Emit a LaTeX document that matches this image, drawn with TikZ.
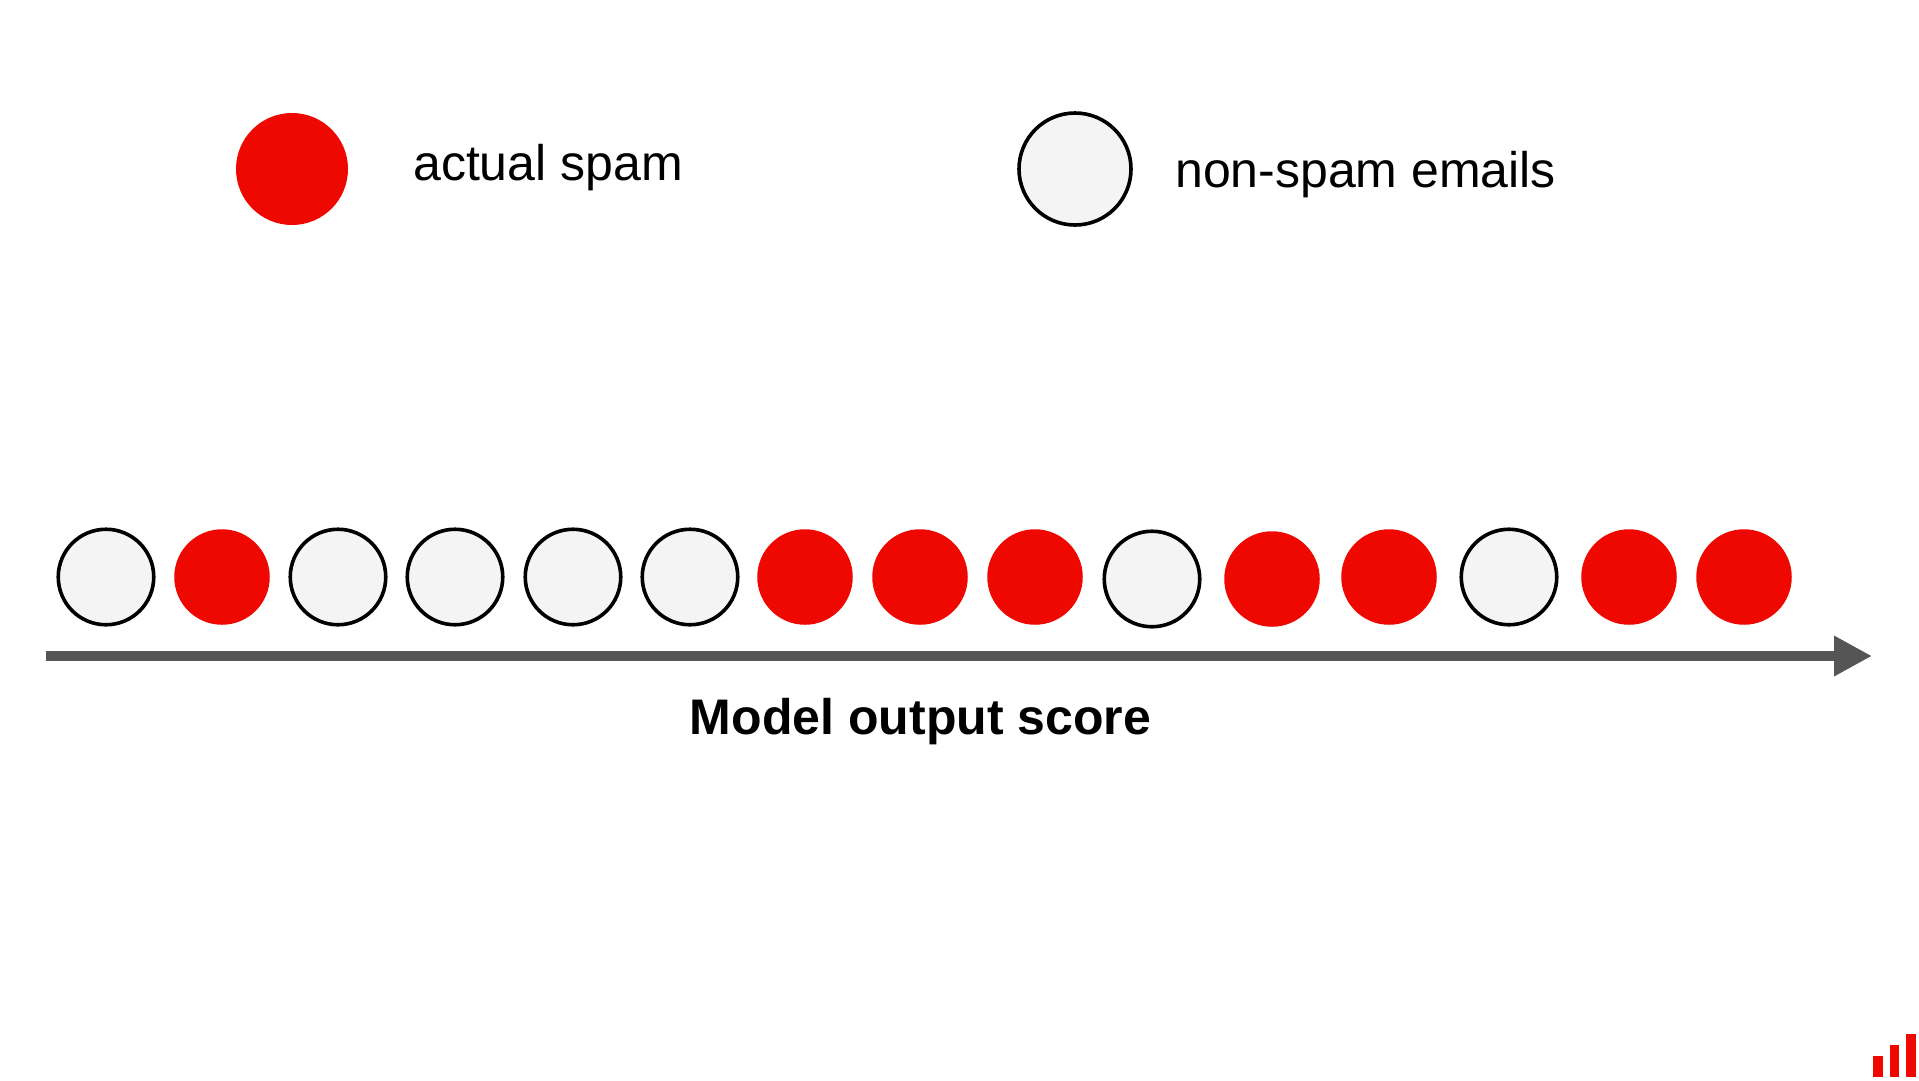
\documentclass[tikz,border=0pt]{standalone}
\usepackage{fontspec}
\setmainfont{Liberation Sans}
\usetikzlibrary{arrows.meta}
\definecolor{spamred}{HTML}{EE0800}
\definecolor{hamgray}{HTML}{F4F4F4}
\definecolor{axisgray}{HTML}{555555}
\tikzset{
  spam/.style={circle,fill=spamred,inner sep=0pt,outer sep=0pt,minimum size=95.5pt},
  ham/.style={circle,draw=black,line width=3.6pt,fill=hamgray,inner sep=0pt,outer sep=0pt,minimum size=95.5pt},
  legendtext/.style={anchor=base west,inner sep=0pt,font=\fontsize{50}{60}\selectfont},
  bar/.style={fill=spamred}
}

\begin{document}
\begin{tikzpicture}[x=1pt,y=-1pt]
            \useasboundingbox (0,0) rectangle (1919,1080);

            % legend
            \node[spam,minimum size=112pt] (keyspam) at (292,169){};
            \node[legendtext] (keyspamtext) at (413,180){actual spam};
            \node[ham,minimum size=112pt] (keyham) at (1075,169){};
            \node[legendtext] (keyhamtext) at (1175,187){non-spam emails};

            % emails in score order
            \node[ham]  (e1) at (106,577){};
            \node[spam] (e2) at (222,577){};
            \node[ham]  (e3) at (338,577){};
            \node[ham]  (e4) at (455,577){};
            \node[ham]  (e5) at (573,577){};
            \node[ham]  (e6) at (690,577){};
            \node[spam] (e7) at (805,577){};
            \node[spam] (e8) at (920,577){};
            \node[spam] (e9) at (1035,577){};
            \node[ham]  (e10) at (1152,579){};
            \node[spam] (e11) at (1272,579){};
            \node[spam] (e12) at (1389,577){};
            \node[ham]  (e13) at (1509,577){};
            \node[spam] (e14) at (1629,577){};
            \node[spam] (e15) at (1744,577){};

            % axis
            \coordinate (axisstart) at (46,656);
            \coordinate (axisend) at (1872,656);
            \draw[axisgray,line width=10pt,-{Triangle[length=38pt,width=38pt]}] (axisstart) -- (axisend);
            \node[anchor=base,inner sep=0pt,font=\fontsize{50}{60}\selectfont\bfseries] (axislabel) at (920.5,734){Model output score};

            % logo
            \fill[bar] (1873,1056) rectangle (1883,1077);
            \fill[bar] (1890,1045) rectangle (1899,1077);
            \fill[bar] (1906,1034) rectangle (1916,1077);
\end{tikzpicture}
\end{document}
